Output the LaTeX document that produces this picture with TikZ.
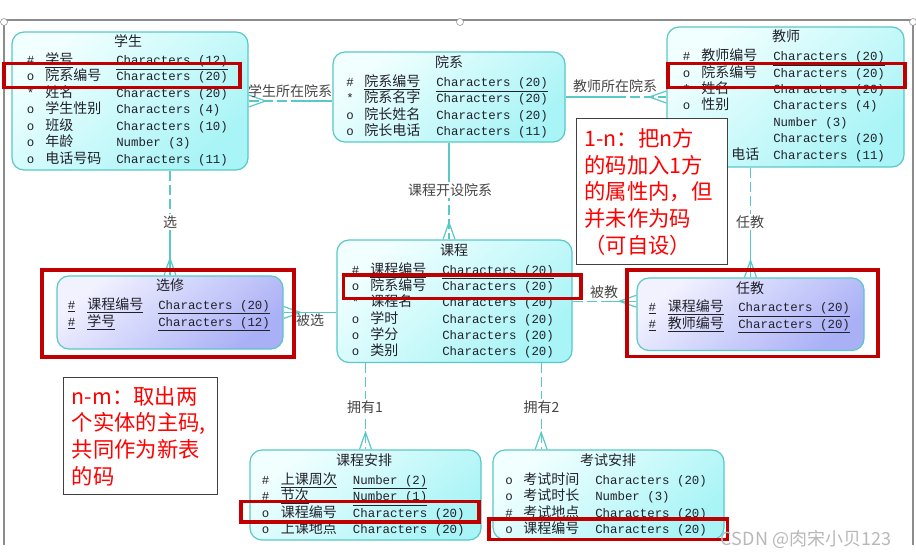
\documentclass[tikz,border=0pt]{standalone}
\usepackage{fontspec}
\setmonofont{Liberation Mono}
\newfontfamily\cjk{Noto Sans CJK SC}
\usetikzlibrary{fit,calc}

\definecolor{erline}{RGB}{88,200,200}
\definecolor{erlight}{RGB}{242,255,255}
\definecolor{erdark}{RGB}{168,244,246}
\definecolor{lklight}{RGB}{242,242,255}
\definecolor{lkdark}{RGB}{170,176,246}
\definecolor{ertext}{RGB}{34,34,44}
\definecolor{labgray}{RGB}{70,70,70}
\definecolor{marked}{RGB}{192,0,0}
\definecolor{notered}{RGB}{255,0,0}
\definecolor{framegray}{RGB}{140,140,140}

\tikzset{
  entity/.style={draw=erline, line width=0.9pt, rounded corners=9pt, inner sep=0pt,
    top color=erlight, bottom color=erdark, shading angle=40},
  linktab/.style={entity, top color=lklight, bottom color=lkdark, shading angle=40},
  tabtitle/.style={font=\cjk\fontsize{10.5}{12}\selectfont, text=ertext, inner sep=0pt},
  sym/.style={font=\ttfamily\fontsize{9.3}{11}\selectfont, text=ertext, anchor=base west, inner sep=0pt},
  fld/.style={font=\cjk\fontsize{10.5}{12}\selectfont, text=ertext, anchor=base west, inner sep=0pt},
  dtype/.style={sym},
  rel/.style={draw=erline, line width=0.9pt},
  reldash/.style={rel, dash pattern=on 7.5pt off 3pt},
  rlab/.style={font=\cjk\fontsize{10.5}{12}\selectfont, text=labgray, inner sep=1pt},
  rlabv/.style={rlab, fill=white},
  redbox/.style={draw=marked, line width=2.3pt, inner sep=0pt},
  notebox/.style={draw=black!75, line width=0.8pt, fill=white, anchor=north west, align=left,
    text=notered, font=\cjk\fontsize{16}{20}\selectfont, inner xsep=6pt},
  crowfoot/.pic={\draw[rel] (0,-6) -- (17,0) -- (0,6);}
}

\begin{document}
\begin{tikzpicture}[x=0.75pt, y=-0.75pt]
\useasboundingbox (0,0) rectangle (916,559);

% frame
\draw[framegray, line width=0.9pt] (4,545) -- (4,20) -- (913,20) -- (913,545);
\draw[framegray, fill=white] (4,22) circle[radius=3.5];
\draw[framegray, fill=white] (460,22) circle[radius=3.5];
\draw[framegray, fill=white] (913,22) circle[radius=3.5];

% 学生
\node[entity, fit={(12,32) (248,170)}] (xs) {};
\node[tabtitle] (xs-title) at (128,41) {学生};
\foreach \sy/\nm/\ty [count=\i] in {
  \#/\underline{学号}/\underline{Characters (12)},
  o/院系编号/Characters (20),
  */姓名/Characters (20),
  o/学生性别/Characters (4),
  o/班级/Characters (10),
  o/年龄/Number (3),
  o/电话号码/Characters (11)}{
  \node[sym] (xs-s\i) at (26.7,{48+16.5*\i}) {\sy};
  \node[fld] (xs-n\i) at (45,{48+16.5*\i}) {\nm};
  \node[dtype] (xs-c\i) at (116,{48+16.5*\i}) {\ty};
}

% 院系
\node[entity, fit={(333,52) (565,142)}] (yx) {};
\node[tabtitle] (yx-title) at (449,62) {院系};
\foreach \sy/\nm/\ty [count=\i] in {
  \#/\underline{院系编号}/\underline{Characters (20)},
  */院系名字/Characters (20),
  o/院长姓名/Characters (20),
  o/院长电话/Characters (11)}{
  \node[sym] (yx-s\i) at (346,{70.3+16.3*\i}) {\sy};
  \node[fld] (yx-n\i) at (364,{70.3+16.3*\i}) {\nm};
  \node[dtype] (yx-c\i) at (436,{70.3+16.3*\i}) {\ty};
}

% 教师
\node[entity, fit={(667,27) (904,167)}] (js) {};
\node[tabtitle] (js-title) at (786,36) {教师};
\foreach \sy/\nm/\ty [count=\i] in {
  \#/\underline{教师编号}/\underline{Characters (20)},
  o/院系编号/Characters (20),
  */姓名/Characters (20),
  o/性别/Characters (4)}{
  \node[sym] (js-s\i) at (682.7,{44.3+16.4*\i}) {\sy};
  \node[fld] (js-n\i) at (701,{44.3+16.4*\i}) {\nm};
  \node[dtype] (js-c\i) at (773,{44.3+16.4*\i}) {\ty};
}
\foreach \ty [count=\i from 5] in {Number (3), Characters (20), Characters (11)}
  \node[dtype] (js-c\i) at (773,{44.3+16.4*\i}) {\ty};
\node[fld] (js-n7) at (731,159.1) {电话};

% 课程
\node[entity, fit={(337,240) (572,362.5)}] (kc) {};
\node[tabtitle] (kc-title) at (454,250) {课程};
\foreach \sy/\nm/\ty [count=\i] in {
  \#/\underline{课程编号}/\underline{Characters (20)},
  o/院系编号/Characters (20),
  */课程名/Characters (20),
  o/学时/Characters (20),
  o/学分/Characters (20),
  o/类别/Characters (20)}{
  \node[sym] (kc-s\i) at (351.7,{257.8+16.3*\i}) {\sy};
  \node[fld] (kc-n\i) at (370,{257.8+16.3*\i}) {\nm};
  \node[dtype] (kc-c\i) at (442,{257.8+16.3*\i}) {\ty};
}

% 选修
\node[linktab, fit={(57,276) (283,349)}] (xx) {};
\node[tabtitle] (xx-title) at (170,285) {选修};
\foreach \nm/\ty [count=\i] in {课程编号/Characters (20), 学号/Characters (12)}{
  \node[sym] (xx-s\i) at (67.7,{292.6+16.7*\i}) {\underline{\#}};
  \node[fld] (xx-n\i) at (87,{292.6+16.7*\i}) {\underline{\nm}};
  \node[dtype] (xx-c\i) at (158,{292.6+16.7*\i}) {\underline{\ty}};
}

% 任教
\node[linktab, fit={(637,278) (864,350.5)}] (rj) {};
\node[tabtitle] (rj-title) at (750,288) {任教};
\foreach \nm/\ty [count=\i] in {课程编号/Characters (20), 教师编号/Characters (20)}{
  \node[sym] (rj-s\i) at (648.3,{295+16.6*\i}) {\underline{\#}};
  \node[fld] (rj-n\i) at (667.7,{295+16.6*\i}) {\underline{\nm}};
  \node[dtype] (rj-c\i) at (738,{295+16.6*\i}) {\underline{\ty}};
}

% 课程安排
\node[entity, fit={(250,450) (481,540)}] (kcap) {};
\node[tabtitle] (kcap-title) at (364,460) {课程安排};
\foreach \sy/\nm/\ty [count=\i] in {
  \#/\underline{上课周次}/\underline{Number (2)},
  \#/\underline{节次}/\underline{Number (1)},
  o/课程编号/Characters (20),
  o/上课地点/Characters (20)}{
  \node[sym] (kcap-s\i) at (261.7,{467.8+16.4*\i}) {\sy};
  \node[fld] (kcap-n\i) at (280.7,{467.8+16.4*\i}) {\nm};
  \node[dtype] (kcap-c\i) at (352.7,{467.8+16.4*\i}) {\ty};
}

% 考试安排
\node[entity, fit={(493,450) (724,539.5)}] (ksap) {};
\node[tabtitle] (ksap-title) at (608,460) {考试安排};
\foreach \sy/\nm/\ty [count=\i] in {
  o/考试时间/Characters (20),
  o/考试时长/Number (3),
  \#/考试地点/Characters (20),
  o/课程编号/Characters (20)}{
  \node[sym] (ksap-s\i) at (505,{467.8+16.4*\i}) {\sy};
  \node[fld] (ksap-n\i) at (523,{467.8+16.4*\i}) {\nm};
  \node[dtype] (ksap-c\i) at (595,{467.8+16.4*\i}) {\ty};
}

% relations
\draw[reldash] (xs.east) -- ($(xs.east)!.5!(xs.east -| yx.west)$);
\draw[rel] ($(xs.east)!.5!(xs.east -| yx.west)$) -- (xs.east -| yx.west);
\pic at (xs.east) {crowfoot};
\node[rlab] (lb1) at (290,91) {学生所在院系};

\draw[rel] (yx.east |- js.west) -- ($(yx.east |- js.west)!.5!(js.west)$);
\draw[reldash] ($(yx.east |- js.west)!.5!(js.west)$) -- (js.west);
\pic[rotate=180] at (js.west) {crowfoot};
\node[rlab] (lb2) at (615,86) {教师所在院系};

\draw[rel] (yx.south) -- ($(yx.south)!.5!(yx.south |- kc.north)$);
\draw[reldash] ($(yx.south)!.5!(yx.south |- kc.north)$) -- (yx.south |- kc.north);
\pic[rotate=90] at (yx.south |- kc.north) {crowfoot};
\node[rlabv] (lb3) at (450,190) {课程开设院系};

\draw[reldash] (xx.north |- xs.south) -- ($(xx.north |- xs.south)!.5!(xx.north)$);
\draw[rel] ($(xx.north |- xs.south)!.5!(xx.north)$) -- (xx.north);
\pic[rotate=90] at (xx.north) {crowfoot};
\node[rlabv] (lb4) at (170,222) {选};

\draw[rel] (xx.east) -- (xx.east -| kc.west);
\pic at (xx.east) {crowfoot};
\node[rlab] (lb5) at (310,320) {被选};

\draw[reldash] (kc.east) -- ($(kc.east)!.5!(kc.east -| rj.west)$);
\draw[rel] ($(kc.east)!.5!(kc.east -| rj.west)$) -- (kc.east -| rj.west);
\pic[rotate=180] at (kc.east -| rj.west) {crowfoot};
\node[rlab] (lb6) at (604,292) {被教};

\draw[reldash] (rj.north |- js.south) -- ($(rj.north |- js.south)!.5!(rj.north)$);
\draw[rel] ($(rj.north |- js.south)!.5!(rj.north)$) -- (rj.north);
\pic[rotate=90] at (rj.north) {crowfoot};
\node[rlabv] (lb7) at (750,222) {任教};

\draw[reldash] (kc.south -| kcap.north) -- (kcap.north);
\pic[rotate=90] at (kcap.north) {crowfoot};
\node[rlabv] (lb8) at (365,407) {拥有1};

\coordinate (ks-top) at ($(ksap.north west)!.21!(ksap.north east)$);
\draw[reldash] (kc.south -| ks-top) -- (ks-top);
\pic[rotate=90] at (ks-top) {crowfoot};
\node[rlabv] (lb9) at (541.5,407) {拥有2};

% marked rows / tables
\node[redbox, fit={(4,63.5) (240,87.5)}] (mk1) {};
\node[redbox, fit={(668,63.5) (905,87.5)}] (mk2) {};
\node[redbox, fit={(343.5,275) (581,298.5)}] (mk3) {};
\node[redbox, fit={(42,270) (294,357)}] (mk4) {};
\node[redbox, fit={(627,270) (878,356.5)}] (mk5) {};
\node[redbox, fit={(241,501.5) (479,522)}] (mk6) {};
\node[redbox, fit={(489,519) (727.5,539.5)}] (mk7) {};

% notes
\node[notebox, text width=101.5pt, minimum height=109.3pt] (note1) at (576,118.3)
  {1-n：把n方\\的码加入1方\\的属性内，但\\并未作为码\\（可自设）};
\node[notebox, text width=103pt, minimum height=88.2pt] (note2) at (63.3,376.7)
  {n-m：取出两\\个实体的主码,\\共同作为新表\\的码};

\node[font=\cjk\fontsize{13.5}{14}\selectfont, text=black!28, inner sep=0pt] (wm) at (806,539) {CSDN @肉宋小贝123};
\end{tikzpicture}
\end{document}
